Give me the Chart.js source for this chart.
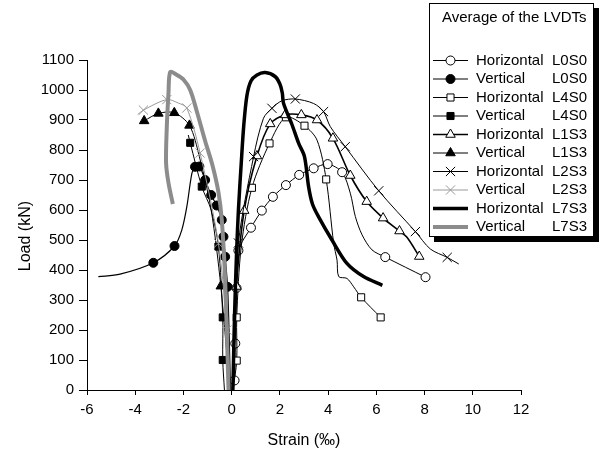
<!DOCTYPE html>
<html><head><meta charset="utf-8">
<script src="https://cdn.jsdelivr.net/npm/chart.js@4/dist/chart.umd.min.js"></script>
<style>html,body{margin:0;padding:0;background:#fff}#wrap{width:599px;height:450px}</style>
</head><body><div id="wrap"><canvas id="c" width="599" height="450"></canvas></div>
<script>
// ---- data (strain ‰, load kN) ----
const orientation = ['Horizontal','Vertical','Horizontal','Vertical','Horizontal','Vertical','Horizontal','Vertical','Horizontal','Vertical'];
const specimen = ['L0S0','L0S0','L4S0','L4S0','L1S3','L1S3','L2S3','L2S3','L7S3','L7S3'];
const xTicks = [-6,-4,-2,0,2,4,6,8,10,12];
const yTicks = [0,100,200,300,400,500,600,700,800,900,1000,1100];

const hL0S0 = [[0.05,0],[0.12,32],[0.15,155],[0.2,340],[0.28,465],[0.8,541],[1.25,598],[1.71,644],[2.25,683],[2.8,717],[3.4,739],[3.98,753],[4.58,726],[4.92,656],[5.13,578],[5.41,517],[5.82,467],[6.37,443],[8.04,376]];
const hL0S0m = [[0.12,32],[0.15,155],[0.2,340],[0.28,465],[0.8,541],[1.25,598],[1.71,644],[2.25,683],[2.8,717],[3.4,739],[3.98,753],[4.58,726],[6.37,443],[8.04,376]];

const vL0S0 = [[-0.05,0],[-0.1,170],[-0.17,344],[-0.27,444],[-0.34,511],[-0.41,567],[-0.62,615],[-0.85,650],[-1.1,700],[-1.34,745],[-1.52,744],[-1.65,722],[-1.86,611],[-2.07,533],[-2.37,480],[-3.25,424],[-4.63,386],[-5.53,378]];
const vL0S0m = [[-0.17,344],[-0.27,444],[-0.34,511],[-0.41,567],[-0.62,615],[-0.85,650],[-1.1,700],[-1.34,745],[-1.52,744],[-2.37,480],[-3.25,424]];

const hL4S0 = [[0.05,0],[0.21,98],[0.21,242],[0.4,480],[0.84,674],[1.57,822],[2.25,909],[3.02,881],[3.54,833],[3.92,702],[4.23,489],[4.37,433],[4.44,378],[4.78,372],[5.06,344],[5.37,309],[6.18,242]];
const hL4S0m = [[0.21,98],[0.21,242],[0.84,674],[1.57,822],[2.25,909],[3.02,881],[3.92,702],[5.37,309],[6.18,242]];

const vL4S0 = [[-0.3,0],[-0.37,100],[-0.37,242],[-0.55,478],[-0.85,600],[-1.24,678],[-1.72,824],[-1.8,850]];
const vL4S0m = [[-0.37,100],[-0.37,242],[-0.55,478],[-1.24,678],[-1.72,824]];

const hL1S3 = [[0.03,0],[0.2,345],[0.52,598],[1.05,780],[1.6,887],[2.22,917],[2.89,917],[3.54,900],[4.2,839],[4.92,715],[5.6,628],[6.28,573],[6.96,530],[7.27,509],[7.78,445]];
const hL1S3m = [[0.2,345],[0.52,598],[1.05,780],[1.6,887],[2.22,917],[2.89,917],[3.54,900],[4.2,839],[4.92,715],[5.6,628],[6.28,573],[6.96,530],[7.78,445]];

const vL1S3 = [[-0.08,0],[-0.45,346],[-0.85,600],[-1.34,778],[-1.75,882],[-2.38,924],[-3.04,922],[-3.63,897]];
const vL1S3m = [[-0.45,346],[-1.75,882],[-2.38,924],[-3.04,922],[-3.63,897]];

const hL2S3 = [[0.05,0],[0.15,200],[0.28,490],[0.91,778],[1.32,906],[1.67,939],[2.08,964],[2.64,970],[3.4,955],[3.81,928],[4.09,878],[4.71,811],[6.1,664],[7.62,528],[8.24,470],[8.94,442],[9.42,420]];
const hL2S3m = [[0.28,490],[0.91,778],[1.67,939],[2.64,970],[3.81,928],[4.71,811],[6.1,664],[7.62,528],[8.94,442]];

const vL2S3 = [[-0.1,0],[-0.2,200],[-0.55,489],[-1.31,790],[-1.86,940],[-2.2,956],[-2.69,968],[-3.66,933],[-3.9,918]];
const vL2S3m = [[-0.2,200],[-0.55,489],[-1.31,790],[-1.86,940],[-2.69,968],[-3.66,933]];

const hL7S3 = [[0.05,0],[0.12,250],[0.2,450],[0.28,600],[0.4,760],[0.5,880],[0.63,980],[0.8,1030],[1.05,1050],[1.39,1058],[1.8,1045],[2.0,1020],[2.1,990],[2.15,956],[2.5,885],[2.78,822],[3.02,778],[3.19,678],[3.35,620],[3.6,578],[4.16,500],[4.78,422],[5.47,378],[6.25,349]];

const vL7S3 = [[-0.13,0],[-0.27,367],[-0.41,567],[-0.55,660],[-0.8,750],[-1.1,830],[-1.45,930],[-1.72,1000],[-2.0,1035],[-2.3,1052],[-2.55,1060],[-2.62,990],[-2.69,878],[-2.72,756],[-2.62,690],[-2.44,620]];

const paths = [hL0S0, vL0S0, hL4S0, vL4S0, hL1S3, vL1S3, hL2S3, vL2S3, hL7S3, vL7S3];
const marks = [hL0S0m, vL0S0m, hL4S0m, vL4S0m, hL1S3m, vL1S3m, hL2S3m, vL2S3m, null, null];

// ---- styles ----
const styles = [
  {color:'#000', width:1,   point:'circle',   r:4.5, fill:'#fff'},
  {color:'#000', width:1.2, point:'circle',   r:4.5, fill:'#000'},
  {color:'#000', width:1,   point:'rect',     r:5,   fill:'#fff'},
  {color:'#000', width:1,   point:'rect',     r:5,   fill:'#000'},
  {color:'#000', width:1.6, point:'triangle', r:5.5, fill:'#fff'},
  {color:'#000', width:1,   point:'triangle', r:5.5, fill:'#000'},
  {color:'#000', width:1,   point:'crossRot', r:6.5, fill:'#000'},
  {color:'#999', width:1,   point:'crossRot', r:6.5, fill:'#999'},
  {color:'#000', width:3.5, point:null},
  {color:'#8c8c8c', width:4, point:null}
];

const toPts = a => a.map(p => ({x:p[0], y:p[1]}));
const datasets = [];
paths.forEach((p, i) => {
  const s = styles[i];
  datasets.push({data: toPts(p), showLine:true, borderColor:s.color, borderWidth:s.width,
    pointRadius:0, pointHoverRadius:0, tension:0.3, order: 100 - 2*i});
  if (marks[i]) {
    datasets.push({data: toPts(marks[i]), showLine:false, pointStyle:s.point, pointRadius:s.r,
      pointHoverRadius:s.r, pointBackgroundColor:s.fill, pointBorderColor:s.color, pointBorderWidth:1,
      order: 99 - 2*i});
  }
});

const legendBox = {
  id:'legendBox',
  afterDraw(chart){
    const ctx = chart.ctx;
    ctx.save();
    ctx.fillStyle = '#000';
    ctx.fillRect(434, 8, 165, 234);
    ctx.fillStyle = '#fff';
    ctx.fillRect(429, 3, 165, 234);
    ctx.strokeStyle = '#000'; ctx.lineWidth = 1;
    ctx.strokeRect(429.5, 3.5, 164, 233);
    ctx.fillStyle = '#000';
    ctx.font = "15px 'Liberation Sans', Arial, sans-serif";
    ctx.textBaseline = 'middle';
    ctx.textAlign = 'left';
    ctx.fillText('Average of the LVDTs', 442, 18);
    for (let i = 0; i < orientation.length; i++) {
      const y = 60.5 + i * 18.5;
      const s = styles[i];
      ctx.strokeStyle = s.color;
      ctx.lineWidth = s.width;
      ctx.beginPath(); ctx.moveTo(433, y); ctx.lineTo(468, y); ctx.stroke();
      if (s.point) {
        ctx.fillStyle = s.fill; ctx.strokeStyle = s.color; ctx.lineWidth = 1;
        Chart.helpers.drawPoint(ctx, {pointStyle:s.point, radius:s.r, rotation:0, borderWidth:1}, 450.5, y);
      }
      ctx.fillStyle = '#000';
      ctx.fillText(orientation[i], 476, y);
      ctx.fillText(specimen[i], 552, y);
    }
    ctx.restore();
  }
};

Chart.defaults.font.family = "'Liberation Sans', Arial, sans-serif";
Chart.defaults.color = '#000';

new Chart(document.getElementById('c'), {
  type:'scatter',
  data:{datasets},
  options:{
    responsive:false, animation:false, devicePixelRatio:1,
    layout:{padding:{top:60, right:78, left:0, bottom:0}},
    plugins:{legend:{display:false}, tooltip:{enabled:false}},
    scales:{
      x:{type:'linear', min:xTicks[0], max:xTicks[xTicks.length-1],
        afterBuildTicks: s => { s.ticks = xTicks.map(v => ({value:v})); },
        afterFit: s => { s.height = 60; },
        ticks:{font:{size:15}, padding:6, color:'#000', callback: v => String(v)},
        grid:{drawOnChartArea:false, drawTicks:true, tickLength:5, color:'#000'},
        border:{display:true, color:'#000', width:1},
        title:{display:true, text:'Strain (‰)', font:{size:16}, color:'#000', padding:{top:0, bottom:0}}
      },
      y:{type:'linear', min:yTicks[0], max:yTicks[yTicks.length-1],
        afterBuildTicks: s => { s.ticks = yTicks.map(v => ({value:v})); },
        afterFit: s => { s.width = 87; },
        ticks:{font:{size:15}, padding:5, color:'#000', callback: v => String(v)},
        grid:{drawOnChartArea:false, drawTicks:true, tickLength:8, color:'#000'},
        border:{display:true, color:'#000', width:1},
        title:{display:true, text:'Load (kN)     ', font:{size:16}, color:'#000', padding:{top:16, bottom:0}}
      }
    }
  },
  plugins:[legendBox]
});
</script></body></html>
